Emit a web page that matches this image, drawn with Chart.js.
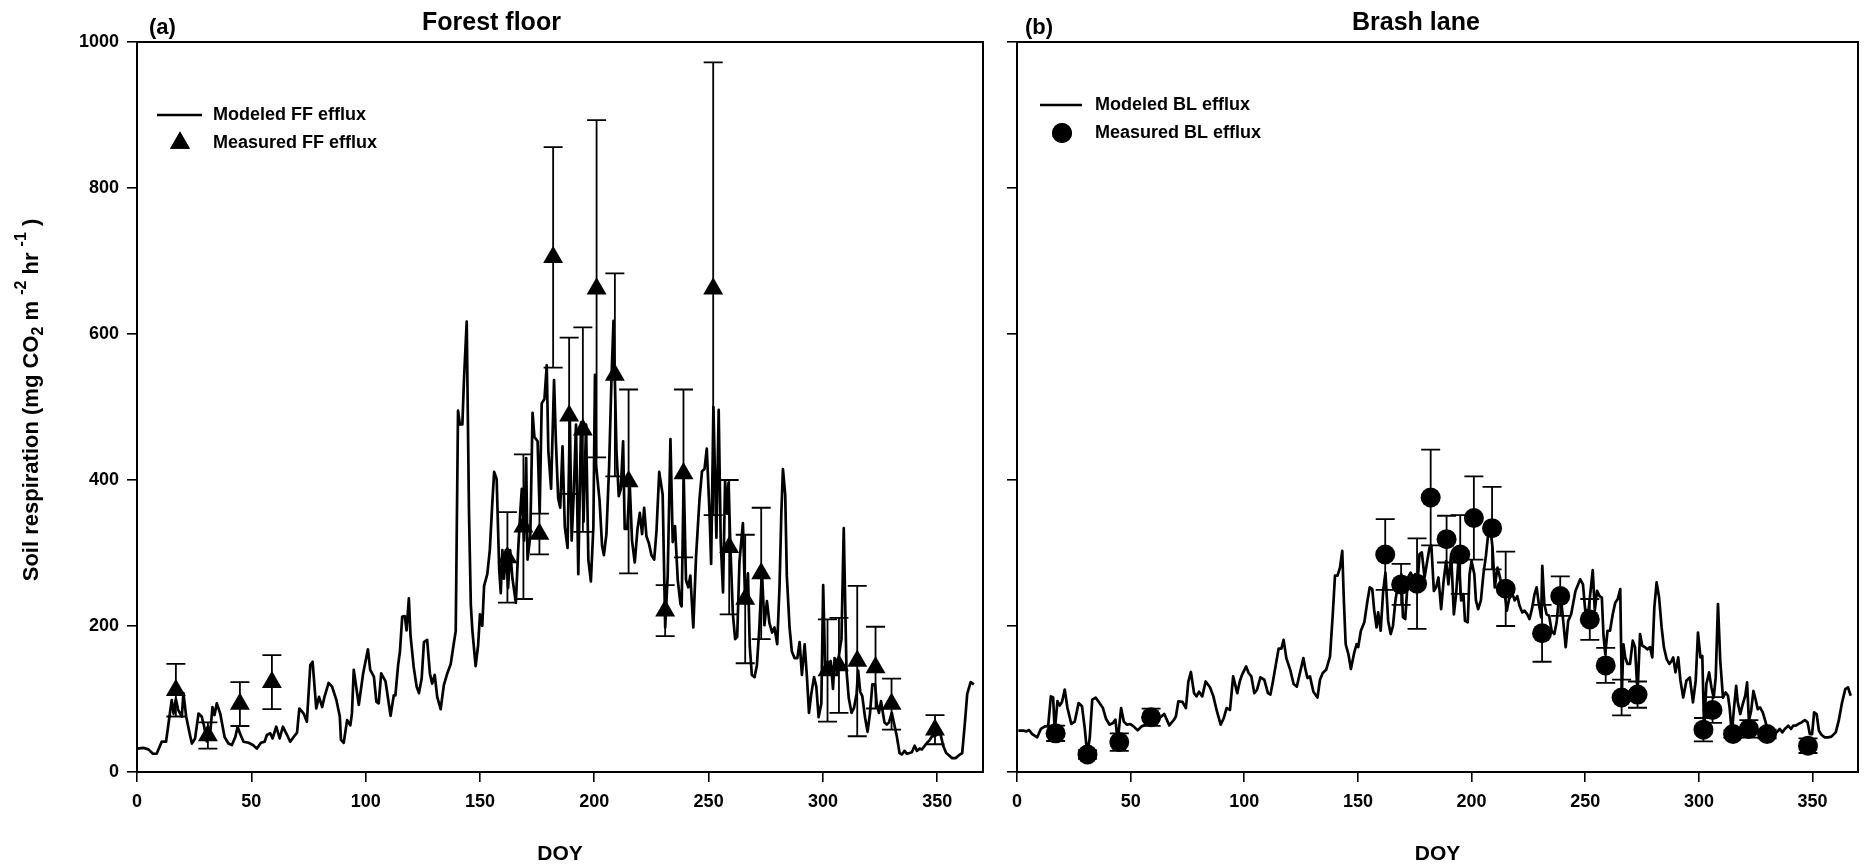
<!DOCTYPE html>
<html><head><meta charset="utf-8">
<script src="https://cdn.jsdelivr.net/npm/chart.js@4.4.1/dist/chart.umd.min.js"></script>
<style>
html,body{margin:0;padding:0;background:#fff;}
#wrap{position:relative;width:1868px;height:867px;overflow:hidden;background:#fff;}
canvas{position:absolute;top:0;}
</style></head><body>
<div id="wrap">
<canvas id="ff" width="1000" height="867" style="left:0"></canvas>
<canvas id="bl" width="868" height="867" style="left:1000px"></canvas>
</div>
<script>
// ---------- DATA ----------
const xTicks = [0, 50, 100, 150, 200, 250, 300, 350];
const yTicks = [0, 200, 400, 600, 800, 1000];

// Modeled forest-floor efflux [DOY, mg CO2 m-2 hr-1]
const ffModeled = [[0,32],[2.8,33],[5,31],[7,25],[8.6,25],[10.8,41.5],[12.7,41.5],[14.2,76],[15.2,98.6],[16,80],[17,100],[18,85],[19.6,76],[20.3,108],[21.5,76],[23,53],[24,39],[25.4,46],[26.9,80],[28.3,76],[29.4,62],[30.5,42],[32,53],[33,89],[33.9,78],[34.9,94],[36.4,80],[38.3,48],[40,39],[41.5,37],[43,48],[44,62],[45,53],[46.6,41.5],[48.8,40],[50.7,37],[52.4,32],[54.2,40],[55.8,41.5],[56.8,50.7],[58.3,53],[59.3,46],[60.9,62],[62.4,46],[63.8,62],[65.6,51],[67,41.5],[68.5,48],[70,54],[71,87],[72.9,80],[74.3,69],[75.8,146.5],[76.8,151],[78.4,87],[79.6,103],[81,89],[82,103],[83.8,122],[85.3,117],[87.2,98.6],[88.7,76],[89.2,44],[90.4,40],[91.9,71],[93.3,64],[94,80],[94.8,140],[97,92],[98.9,135],[101,168],[102,140],[103.6,130.5],[104.7,96],[105.7,94],[106.8,135],[108.7,124],[110.9,77],[112.3,105],[113,105],[114.2,146.5],[115,165],[116,213],[117.1,213.6],[117.9,194],[118.9,238],[119.6,188],[121,144],[122.3,117],[123.3,108],[124.5,128],[125.5,178],[126.9,181],[128.1,135],[129.1,121],[130.2,133],[131.3,103],[132.8,86],[134.2,119],[135.7,135],[137.2,148],[138.6,177],[139.4,193],[140.4,495],[141.2,476],[142.3,476],[143,537],[144.2,617],[145.2,355],[146,229],[146.7,193],[148.1,145],[149.2,174],[150,216],[151,200],[151.8,255],[153.2,271],[154.3,304],[155.4,369],[156.2,411],[157.3,401],[158.4,278],[159.1,245],[159.8,304],[160.5,265],[161.3,304],[162.3,252],[163.2,304],[164.2,265],[165.7,232],[166.7,304],[167.6,355],[168.3,388],[169.3,317],[170.2,430],[170.8,291],[172,323],[173,492],[173.8,459],[175.2,453],[176.1,355],[177,505],[178.2,511],[179.2,557],[179.9,440],[181.1,388],[182.4,537],[183.2,453],[184.2,375],[185.1,362],[186.1,446],[187.1,336],[188.3,307],[189.3,485],[190.1,317],[191,381],[192,476],[193,271],[194.2,479],[195.3,343],[196.4,476],[197.4,291],[198.5,261],[199.6,336],[200.3,544],[200.8,420],[202.3,372],[203.4,310],[204.2,297],[205.3,326],[206.5,420],[207.5,537],[208.4,618],[209,537],[209.7,440],[210.7,378],[211.6,388],[212.6,453],[213.3,333],[214.4,333],[215.5,394],[216.5,317],[217.7,287],[218.9,333],[219.9,355],[220.9,326],[221.8,362],[222.8,323],[223.9,313],[225,297],[226.2,291],[227.2,330],[228.4,411],[229.9,380],[231,198],[232.1,269],[233.3,456],[234.3,315],[235.3,337],[236.5,263],[237.7,230],[238.2,227],[239.1,405],[240.1,263],[241.1,253],[242,269],[243.3,198],[244.5,295],[246,373],[247.1,412],[248.2,415],[249.2,443],[250.4,354],[251.1,285],[252.1,500],[253.4,321],[254.4,496],[255.3,315],[256.3,246],[257.2,399],[258.1,354],[258.7,396],[259.6,302],[260.6,217],[261.6,182],[262.5,185],[263.5,289],[265,341],[266,230],[267.2,272],[268,172],[268.9,133],[270.1,130],[271.1,146],[272.2,198],[273.3,276],[274.4,201],[275.5,234],[276.6,204],[277.8,191],[278.8,198],[280,175],[281,253],[281.8,354],[282.5,415],[283.5,380],[284.2,269],[285.4,198],[286.4,165],[287.6,156],[288.8,156],[289.8,178],[290.8,133],[292,175],[293,130],[293.9,81],[294.9,107],[296.1,130],[297.1,117],[298.1,75],[299.3,94],[300.1,256],[301,139],[302.2,146],[303.4,152],[304.4,114],[305.1,156],[306.3,133],[307.1,162],[308.1,182],[309.1,334],[310.3,139],[311.3,101],[312.5,81],[313.6,88],[314.7,107],[315.4,139],[316.3,110],[317.2,104],[318.4,75],[319.5,55],[320.6,81],[321.6,120],[322.8,120],[323.5,94],[324.5,81],[325.4,97],[326.9,68],[327.9,65],[328.9,68],[330.1,81],[331.2,65],[332.3,49],[333.5,26],[334.5,24],[335.7,29],[336.7,25],[337.9,26],[338.9,27],[340.1,36],[341.1,29],[342.3,32],[343.3,31],[344.5,36],[345.5,40],[346.5,43],[347.7,49],[348.9,49],[350.2,52],[351.4,52],[352.6,36],[353.9,26],[355.1,23],[356.5,19],[358,19],[359.5,23],[360.9,26],[362.1,68],[363.1,107],[364.6,123],[366,120]];

// Measured forest-floor efflux (mean and error)
const ffDoy  = [17, 31, 45, 59, 162, 169, 176, 182, 189, 195, 201, 209, 215, 231, 239, 252, 259, 266, 273, 302, 307, 315, 323, 330, 349];
const ffResp = [112, 50, 93, 123, 294, 336, 326, 705, 488, 469, 662, 544, 398, 221, 409, 662, 308, 237, 272, 139, 146, 152, 143, 93, 58];
const ffErr  = [36, 18, 30, 37, 62, 99, 28, 151, 107, 140, 231, 139, 126, 35, 115, 310, 92, 88, 90, 70, 65, 103, 56, 35, 20];

// Modeled brash-lane efflux [DOY, mg CO2 m-2 hr-1]
const blModeled = [[0.6,56.6],[2.8,56.6],[4.2,55.7],[5.3,57.5],[6.7,52],[8.9,47.5],[10.5,59],[12.3,62.5],[13.7,62.5],[14.9,103.6],[15.9,102],[16.6,55.7],[17.8,97],[18.8,91],[19.8,96],[21,113],[22.2,87.6],[23.9,66],[25.4,69],[27.1,94.5],[28.6,90],[29.8,60],[30.9,24],[32,46.5],[33.1,99],[34.6,102],[36.3,94.5],[37.8,87.6],[39.2,72.6],[40.7,64.8],[42.2,67],[43.3,71.7],[44.3,42],[45.8,87.6],[47,69],[48.4,64.8],[49.9,65.7],[51.3,62.5],[53.1,57],[54.8,62.5],[56.7,64.8],[58.9,74.8],[61.1,67],[63,74.8],[64.8,79.4],[67,63.9],[69.1,71.7],[69.9,76],[71,96.8],[72.8,96],[74.3,87.6],[75.4,124],[76.5,137],[77.9,108],[79,103.6],[80.1,110],[81.5,103.6],[83,124],[84.9,116],[86.4,103.6],[87.8,85],[89.6,64.8],[91,74],[92.2,87.6],[93.7,85],[95.1,131],[96.9,108],[98,124],[99,133],[100.8,144.7],[101.9,135.6],[103.1,131],[104.4,108],[105.6,112.7],[107.1,129.6],[108.8,126.4],[110.4,108],[111.5,106],[112.6,124],[113.6,142],[115.1,169],[116.3,169],[117.3,181],[118.5,156],[120.2,140],[121.7,120.5],[123.1,117],[124.9,141.5],[126,156],[126.8,142],[127.8,128.7],[128.9,131],[130.4,110],[132.2,102],[133.3,126.4],[134.5,135.6],[136,140],[137.7,158],[138.9,215],[139.9,269],[141,269],[142.1,280],[143.1,303],[143.8,235],[144.6,175],[145.8,161.6],[146.9,141],[148.4,164],[149.4,175],[150.1,171],[151.3,193.5],[152.8,205],[154.2,235],[155.2,253],[156.3,250.6],[157.1,223],[158.2,198],[158.9,218.6],[160,193.5],[161.1,248],[162.1,273],[163.3,207],[164.4,189],[165.4,200],[166.5,235],[167.6,257],[169.1,271],[169.8,212],[170.8,209.5],[172,266.5],[173.2,273],[174.2,266.5],[175.2,271],[176.4,266.5],[177.1,298.5],[178.1,300.8],[179.3,266.5],[180.5,289],[181.5,307.6],[182.3,310],[183.4,248],[184.4,253],[185.4,266.5],[186.6,223],[187.7,262],[188.8,289],[189.8,257],[191,298.5],[192.2,216],[193.2,243.7],[194.3,294],[195.4,235],[196.4,243.7],[197.1,207],[198.3,205],[199.1,271],[200,289],[201.2,271],[201.9,235],[202.9,223],[204.1,235],[205.2,271],[206.3,296],[207.3,326],[208.2,335],[209.2,307.6],[210.2,253],[211.4,280],[212.5,266.5],[213.6,248],[214.6,243.7],[215.5,221],[216.5,237],[218,243.7],[219,235],[220.1,241],[221.1,227.7],[222.3,218.6],[223.3,221],[224.5,216],[225.5,209.5],[226.7,225.5],[227.7,243.7],[228.6,253],[229.6,230],[230.6,211.8],[231.1,282.5],[232,230],[233,216],[234.1,214],[235.2,193.5],[236.4,189],[237.4,205],[238.4,237],[239.3,239],[240.3,207],[241.4,171],[242.5,207],[243.8,216],[245.7,248],[247.8,264],[249,257],[250,221],[251.5,223],[253.3,276.6],[254.2,221],[255.2,248],[256.3,241],[257.3,239],[258,189],[258.8,161.6],[259.8,193.5],[260.9,193.5],[262.1,216],[263.2,232],[264.3,237],[265.4,250.6],[266.1,107],[266.8,175],[267.6,157],[268.6,148],[269.7,148],[270.9,180],[271.9,171],[273,107],[274.1,189],[275.1,173],[276.3,171],[277.3,168],[278.5,171],[279.5,157],[280.4,225.5],[281.4,259.7],[282.5,239],[283.6,198],[284.6,171],[285.8,154.7],[287,148],[288,152.4],[288.7,157],[289.7,136.5],[290.9,157],[291.9,125],[293.1,102],[294.5,125],[296,129.6],[297.4,95.4],[298.6,125],[299.6,191],[300.7,157],[301.5,159],[302.3,58.9],[303.3,120.5],[304.5,136.5],[305.5,116],[306.5,102],[307.4,129.6],[308.4,230],[309.4,152.4],[310.6,102],[311.8,109],[312.8,104.5],[313.5,88.5],[314.5,52],[315.4,86],[316.4,118],[317.1,95.4],[318.2,79.4],[319.3,93],[320.4,104.5],[321.2,122.8],[322,70],[323,84],[324,111],[324.9,100],[325.9,86],[326.9,88.5],[328.1,81.7],[329.2,70],[330.5,55],[332.7,56.6],[334.2,54.3],[335.6,58.9],[336.7,54.3],[337.8,58.9],[339.3,63.4],[340.5,58.9],[341.5,63.4],[342.6,63.4],[343.7,65.7],[345.2,68],[346.6,71.2],[347.8,68],[348.8,52],[349.8,52],[350.7,81.7],[351.8,79.4],[352.8,56.6],[354,50.7],[355.4,47.5],[356.9,47.5],[358.3,48.4],[360.2,54.3],[361.5,70],[363,95.4],[364.4,113.6],[365.6,116],[366.8,104.5]];

// Measured brash-lane efflux (mean and error)
const blDoy  = [17, 31, 45, 59, 162, 169, 176, 182, 189, 195, 201, 209, 215, 231, 239, 252, 259, 266, 273, 302, 306, 315, 322, 330, 348];
const blResp = [53, 24, 41, 75, 298, 257, 258, 376, 319, 298, 348, 334, 251, 190, 241, 209, 146, 102, 106, 58, 85, 52, 59, 52, 36];
const blErr  = [10.5, 6, 12, 11.7, 48.5, 28, 62, 65.5, 32, 54, 57, 56.5, 51, 39, 27, 28, 24, 24.5, 18, 16, 17.7, 5, 12, 6, 10];

// ---------- RENDERING ----------
const FONT = '"Liberation Sans", Arial, Helvetica, sans-serif';

function makeErrorBars(xs, ys, es) {
  return {
    id: 'errorBars',
    afterDatasetsDraw(chart) {
      const {ctx, scales: {x, y}} = chart;
      ctx.save();
      ctx.strokeStyle = '#000';
      ctx.lineWidth = 1.8;
      xs.forEach((d, i) => {
        const px = x.getPixelForValue(d);
        const top = y.getPixelForValue(ys[i] + es[i]);
        const bot = y.getPixelForValue(ys[i] - es[i]);
        ctx.beginPath();
        ctx.moveTo(px, top); ctx.lineTo(px, bot);
        ctx.moveTo(px - 9.5, top); ctx.lineTo(px + 9.5, top);
        ctx.moveTo(px - 9.5, bot); ctx.lineTo(px + 9.5, bot);
        ctx.stroke();
      });
      ctx.restore();
    }
  };
}

function makeDecor(cfg) {
  return {
    id: 'decor',
    afterDraw(chart) {
      const {ctx, chartArea: a} = chart;
      ctx.save();
      // frame
      ctx.strokeStyle = '#000';
      ctx.lineWidth = 2;
      ctx.strokeRect(a.left, a.top, a.right - a.left, a.bottom - a.top);
      ctx.fillStyle = '#000';
      // panel label
      ctx.textBaseline = 'alphabetic';
      ctx.textAlign = 'left';
      ctx.font = 'bold 22px ' + FONT;
      ctx.fillText(cfg.label, cfg.labelX, 34);
      // title
      ctx.font = 'bold 25px ' + FONT;
      ctx.fillText(cfg.title, cfg.titleX, 30);
      // legend
      ctx.lineWidth = 2.6;
      ctx.beginPath();
      ctx.moveTo(cfg.lgLine[0], cfg.lgY1);
      ctx.lineTo(cfg.lgLine[1], cfg.lgY1);
      ctx.stroke();
      ctx.font = 'bold 18px ' + FONT;
      ctx.textBaseline = 'middle';
      ctx.fillText(cfg.lgText1, cfg.lgTextX, cfg.lgY1);
      ctx.fillText(cfg.lgText2, cfg.lgTextX, cfg.lgY2);
      Chart.helpers.drawPoint(ctx, {pointStyle: cfg.marker, radius: cfg.markerR, rotation: 0, borderWidth: 0},
        cfg.markerX, cfg.lgY2);
      ctx.fill();
      // y-axis title with sub/superscripts
      if (cfg.yTitle) {
        const segs = [
          ['Soil respiration (mg CO', 0], ['2', 1], [' m ', 0], ['-2', 2],
          [' hr ', 0], ['-1', 2], [' )', 0]
        ];
        const big = 'bold 22px ' + FONT, small = 'bold 16px ' + FONT;
        let total = 0;
        segs.forEach(s => { ctx.font = s[1] ? small : big; total += ctx.measureText(s[0]).width; });
        ctx.translate(32, 400);
        ctx.rotate(-Math.PI / 2);
        ctx.textBaseline = 'middle';
        let cx = -total / 2;
        segs.forEach(s => {
          ctx.font = s[1] ? small : big;
          const dy = s[1] === 1 ? 7 : (s[1] === 2 ? -10 : 0);
          ctx.fillText(s[0], cx, dy);
          cx += ctx.measureText(s[0]).width;
        });
      }
      ctx.restore();
    }
  };
}

function scalesFor(yWidth, showYLabels) {
  const tickFont = {family: FONT, size: 18, weight: 'bold'};
  const grid = {display: true, drawOnChartArea: false, drawTicks: true, tickLength: 10, color: '#000', lineWidth: 1.6};
  return {
    x: {
      type: 'linear', position: 'bottom', min: 0, max: 370,
      afterFit(s) { s.height = 95; },
      afterBuildTicks(s) { s.ticks = xTicks.map(v => ({value: v})); },
      ticks: {stepSize: 50, includeBounds: false, padding: 9, color: '#000', font: tickFont, maxRotation: 0, autoSkip: false,
              callback: v => String(v)},
      grid: grid,
      border: {display: false},
      title: {display: true, text: 'DOY', color: '#000', font: {family: FONT, size: 21, weight: 'bold'}, padding: {top: 0, bottom: 0}}
    },
    y: {
      type: 'linear', position: 'left', min: 0, max: 1000,
      afterFit(s) { s.width = yWidth; },
      afterBuildTicks(s) { s.ticks = yTicks.map(v => ({value: v})); },
      ticks: {stepSize: 200, display: showYLabels, padding: 8, color: '#000', font: tickFont, autoSkip: false,
              callback: v => String(v)},
      grid: grid,
      border: {display: false}
    }
  };
}

function makeChart(id, modeled, doy, resp, err, opts) {
  return new Chart(document.getElementById(id), {
    type: 'scatter',
    data: {
      datasets: [
        {
          label: opts.lgText2,
          data: doy.map((d, i) => ({x: d, y: resp[i]})),
          showLine: false,
          pointStyle: opts.marker,
          pointRadius: opts.markerR,
          pointBackgroundColor: '#000',
          pointBorderColor: '#000',
          pointBorderWidth: 0,
          order: 0
        },
        {
          label: opts.lgText1,
          data: modeled.map(p => ({x: p[0], y: p[1]})),
          showLine: true,
          borderColor: '#000',
          borderWidth: 2.7,
          borderJoinStyle: 'round',
          pointRadius: 0,
          tension: 0,
          order: 1
        }
      ]
    },
    options: {
      responsive: false,
      animation: false,
      events: [],
      layout: {padding: {top: 42, right: opts.padRight, bottom: 0, left: 0}},
      plugins: {legend: {display: false}, tooltip: {enabled: false}, title: {display: false}},
      scales: scalesFor(opts.yWidth, opts.showYLabels)
    },
    plugins: [makeErrorBars(doy, resp, err), makeDecor(opts)]
  });
}

makeChart('ff', ffModeled, ffDoy, ffResp, ffErr, {
  label: '(a)', labelX: 149, title: 'Forest floor', titleX: 422,
  lgLine: [157, 202], lgY1: 115, lgY2: 143, lgTextX: 213,
  lgText1: 'Modeled FF efflux', lgText2: 'Measured FF efflux',
  marker: 'triangle', markerR: 11.5, markerX: 180,
  yTitle: true, yWidth: 137, showYLabels: true, padRight: 17
});

makeChart('bl', blModeled, blDoy, blResp, blErr, {
  label: '(b)', labelX: 25, title: 'Brash lane', titleX: 352,
  lgLine: [40, 82], lgY1: 105, lgY2: 133, lgTextX: 95,
  lgText1: 'Modeled BL efflux', lgText2: 'Measured BL efflux',
  marker: 'circle', markerR: 10, markerX: 62,
  yTitle: false, yWidth: 17, showYLabels: false, padRight: 8
});
</script>
</body></html>
